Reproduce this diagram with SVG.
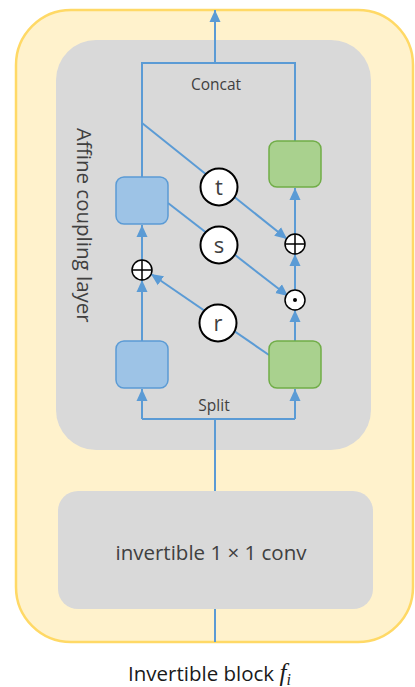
<svg xmlns="http://www.w3.org/2000/svg" width="415" height="687" viewBox="0 0 415 687">
  <style>
    .conn { fill: none; stroke: #5B9BD5; stroke-width: 2; }
    .blue { fill: #9DC3E6; stroke: #5B9BD5; stroke-width: 1.5; }
    .green { fill: #A9D18E; stroke: #70AD47; stroke-width: 1.5; }
    .lbl { fill: #ffffff; stroke: #000000; stroke-width: 2; }
    .op { fill: #ffffff; stroke: #000000; stroke-width: 1.5; }
    .txt { font-family: "Open Sans", "Liberation Sans", sans-serif; fill: #404040; }
  </style>
  <defs>
    <marker id="ah" markerUnits="userSpaceOnUse" markerWidth="12" markerHeight="12" viewBox="0 0 12 12" refX="12" refY="6" orient="auto">
      <path d="M0,0.5 L12,6 L0,11.5 z" fill="#5B9BD5"/>
    </marker>
  </defs>

  <g id="invertible-block">
    <rect x="16" y="10" width="397" height="632" rx="55" fill="#FFF2CC" stroke="#FFD966" stroke-width="2.5"/>
  </g>
  <g id="affine-coupling-layer">
    <rect x="56" y="40" width="315" height="410" rx="40" fill="#D9D9D9"/>
    <text class="txt" transform="translate(77,128) rotate(90)" font-size="20.5" fill="#1a1a1a">Affine coupling layer</text>
  </g>
  <g id="conv">
    <rect x="58" y="491" width="315" height="118" rx="20" fill="#D9D9D9"/>
    <text class="txt" x="211" y="560" font-size="20.5" text-anchor="middle" fill="#1a1a1a">invertible 1 × 1 conv</text>
  </g>

  <g id="connectors">
    <line class="conn" x1="215" y1="642" x2="215" y2="609"/>
    <polyline class="conn" points="215,491 215,419"/>
    <polyline class="conn" points="142,419 295,419"/>
    <line class="conn" x1="142" y1="419" x2="142" y2="389" marker-end="url(#ah)"/>
    <line class="conn" x1="295" y1="419" x2="295" y2="389" marker-end="url(#ah)"/>
    <line class="conn" x1="142" y1="341" x2="142" y2="280" marker-end="url(#ah)"/>
    <line class="conn" x1="142" y1="260" x2="142" y2="225" marker-end="url(#ah)"/>
    <line class="conn" x1="295" y1="341" x2="295" y2="310" marker-end="url(#ah)"/>
    <line class="conn" x1="295" y1="290" x2="295" y2="254" marker-end="url(#ah)"/>
    <line class="conn" x1="295" y1="234" x2="295" y2="188" marker-end="url(#ah)"/>
    <polyline class="conn" points="142,177 142,63 295,63 295,141"/>
    <line class="conn" x1="215" y1="63" x2="215" y2="10" marker-end="url(#ah)"/>
    <line class="conn" x1="142" y1="123" x2="287" y2="239" marker-end="url(#ah)"/>
    <line class="conn" x1="168" y1="203" x2="288" y2="296" marker-end="url(#ah)"/>
    <line class="conn" x1="269" y1="355" x2="151" y2="274" marker-end="url(#ah)"/>
    <text class="txt" x="216" y="90" font-size="15.5" text-anchor="middle">Concat</text>
    <text class="txt" x="214" y="411" font-size="15.5" text-anchor="middle">Split</text>
  </g>

  <g id="box-top-left"><rect class="blue" x="116" y="177" width="52" height="47" rx="8"/></g>
  <g id="box-top-right"><rect class="green" x="269" y="141" width="52" height="46" rx="8"/></g>
  <g id="box-bottom-left"><rect class="blue" x="116" y="341" width="52" height="47" rx="8"/></g>
  <g id="box-bottom-right"><rect class="green" x="269" y="341" width="52" height="47" rx="8"/></g>

  <g id="t">
    <circle class="lbl" cx="219" cy="187" r="18.5"/>
    <text class="txt" x="219" y="195" font-size="22" text-anchor="middle" fill="#000">t</text>
  </g>
  <g id="s">
    <circle class="lbl" cx="219" cy="245" r="18.5"/>
    <text class="txt" x="219" y="253" font-size="22" text-anchor="middle" fill="#000">s</text>
  </g>
  <g id="r">
    <circle class="lbl" cx="218" cy="323" r="18.5"/>
    <text class="txt" x="218" y="331" font-size="22" text-anchor="middle" fill="#000">r</text>
  </g>

  <g id="plus-right">
    <circle class="op" cx="295" cy="244" r="10"/>
    <path d="M285,244 H305 M295,234 V254" stroke="#000" stroke-width="1.5"/>
  </g>
  <g id="dot-right">
    <circle class="op" cx="295" cy="300" r="10"/>
    <circle cx="295" cy="300" r="2" fill="#000"/>
  </g>
  <g id="plus-left">
    <circle class="op" cx="142" cy="270" r="10"/>
    <path d="M132,270 H152 M142,260 V280" stroke="#000" stroke-width="1.5"/>
  </g>

  <g id="caption">
    <text x="128" y="681" font-family="'Open Sans', 'Liberation Sans', sans-serif" font-size="20.5" fill="#1a1a1a">Invertible block <tspan font-family="'Liberation Serif', serif" font-style="italic" font-size="25">f</tspan><tspan font-family="'Liberation Serif', serif" font-style="italic" font-size="16" dy="4">i</tspan></text>
  </g>
</svg>
